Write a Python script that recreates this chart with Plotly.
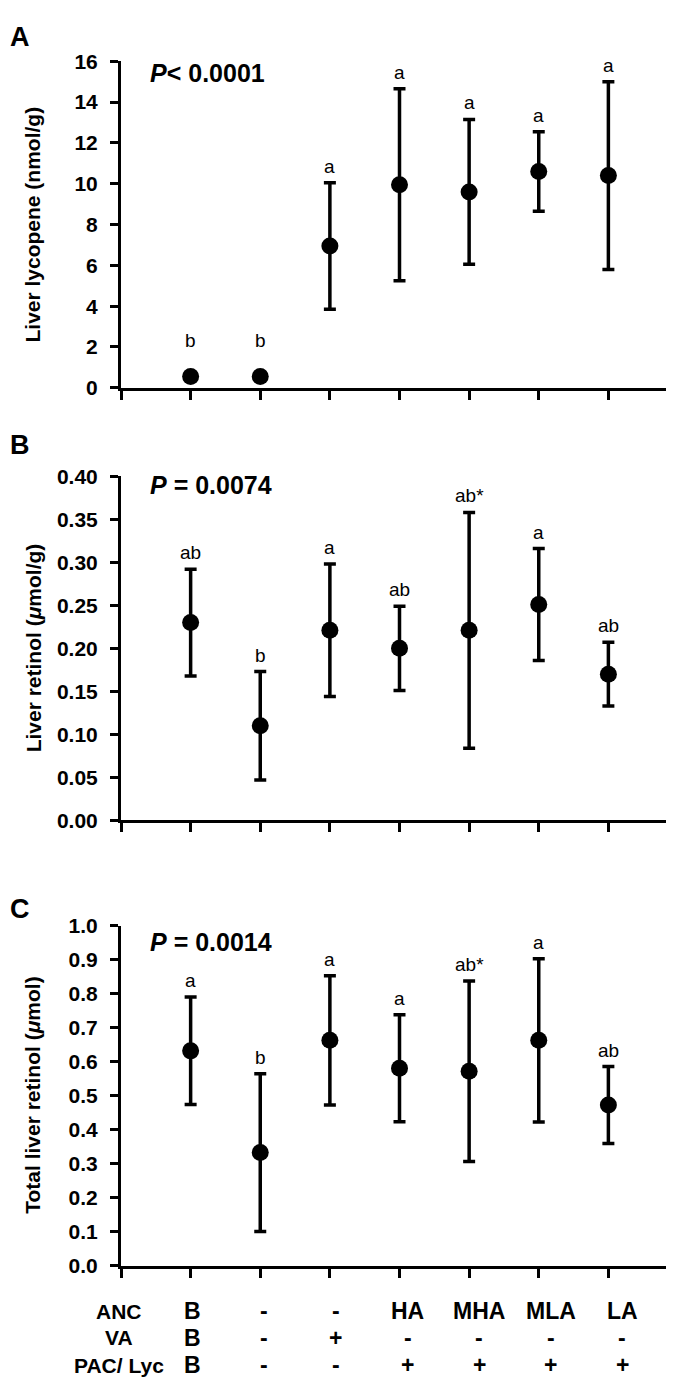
import plotly.graph_objects as go

# ---- data ----
groups = [1, 2, 3, 4, 5, 6, 7]

lyc_mean = [0.55, 0.55, 6.95, 9.95, 9.6, 10.6, 10.4]
lyc_sd = [0.0, 0.0, 3.1, 4.7, 3.55, 1.95, 4.6]
lyc_letters = ["b", "b", "a", "a", "a", "a", "a"]

ret_mean = [0.230, 0.110, 0.221, 0.200, 0.221, 0.251, 0.170]
ret_sd = [0.062, 0.063, 0.077, 0.049, 0.137, 0.065, 0.037]
ret_letters = ["ab", "b", "a", "ab", "ab*", "a", "ab"]

tot_mean = [0.632, 0.333, 0.663, 0.581, 0.572, 0.663, 0.473]
tot_sd = [0.158, 0.232, 0.190, 0.157, 0.265, 0.240, 0.113]
tot_letters = ["a", "b", "a", "a", "ab*", "a", "ab"]

p_texts = ["<i>P</i>&lt; 0.0001", "<i>P</i> = 0.0074", "<i>P</i> = 0.0014"]
panel_letters = ["A", "B", "C"]
y_titles = ["Liver lycopene (nmol/g)", "Liver retinol (<i>μ</i>mol/g)",
            "Total liver retinol (<i>μ</i>mol)"]

row_labels = ["ANC", "VA", "PAC/ Lyc"]
anc_row = ["B", "-", "-", "HA", "MHA", "MLA", "LA"]
va_row = ["B", "-", "+", "-", "-", "-", "-"]
pac_row = ["B", "-", "-", "+", "+", "+", "+"]

# ---- layout geometry (pixels) ----
W, H = 674, 1381
FONT = "Liberation Sans, Arial, sans-serif"


def py(p):
    return 1 - p / H


x_dom = [113 / W, 670 / W]
y_doms = [[py(374), py(42)], [py(814), py(464)], [py(1267), py(921)]]
y_ranges = [[0, 16], [0, 0.4], [0, 1.0]]
y_dticks = [2, 0.05, 0.1]
y_formats = ["d", ".2f", ".1f"]
p_y = [54, 473, 938]
letter_y = [17, 432, 904]

fig = go.Figure()
annotations = []

series = [(lyc_mean, lyc_sd, lyc_letters), (ret_mean, ret_sd, ret_letters),
          (tot_mean, tot_sd, tot_letters)]

for k, (mean, sd, letters) in enumerate(series):
    sx = "" if k == 0 else str(k + 1)
    fig.add_trace(go.Scatter(
        x=groups, y=mean, mode="markers",
        xaxis="x" + sx, yaxis="y" + sx,
        marker=dict(size=17, color="black"),
        error_y=dict(type="data", array=sd, visible=True, color="black",
                     thickness=3.5, width=6),
        showlegend=False, hoverinfo="skip"))
    for g, m, s, t in zip(groups, mean, sd, letters):
        if s > 0:
            yv, shift = m + s, 4
        else:
            yv, shift = m, 24
        annotations.append(dict(
            x=g, y=yv, xref="x" + sx, yref="y" + sx, text=t, showarrow=False,
            yanchor="bottom", yshift=shift,
            font=dict(family=FONT, size=19, color="black")))
    fig.layout["xaxis" + sx] = dict(
        domain=x_dom, anchor="y" + sx, range=[0, 8], tickvals=list(range(9)),
        showticklabels=False, ticks="outside", ticklen=9, tickwidth=3,
        tickcolor="black", showline=True, linewidth=3, linecolor="black",
        showgrid=False, zeroline=False, fixedrange=True)
    fig.layout["yaxis" + sx] = dict(
        domain=y_doms[k], anchor="x" + sx, range=y_ranges[k], dtick=y_dticks[k],
        tick0=0, tickformat=y_formats[k], ticks="outside", ticklen=8, tickwidth=3,
        tickcolor="black", showline=True, linewidth=3, linecolor="black",
        showgrid=False, zeroline=False, ticklabelstandoff=8,
        tickfont=dict(family=FONT, size=21, color="black", weight="bold"))
    # y-axis title
    annotations.append(dict(
        x=25 / W, y=(y_doms[k][0] + y_doms[k][1]) / 2, xref="paper", yref="paper",
        text="<b>" + y_titles[k] + "</b>", textangle=-90, showarrow=False,
        xanchor="center", yanchor="middle",
        font=dict(family=FONT, size=21, color="black")))
    # P value
    annotations.append(dict(
        x=140 / W, y=py(p_y[k]), xref="paper", yref="paper",
        text="<b>" + p_texts[k] + "</b>", showarrow=False,
        xanchor="left", yanchor="middle",
        font=dict(family=FONT, size=25, color="black")))
    # panel letter
    annotations.append(dict(
        x=0, y=py(letter_y[k]), xref="paper", yref="paper",
        text="<b>" + panel_letters[k] + "</b>", showarrow=False,
        xanchor="left", yanchor="middle",
        font=dict(family=FONT, size=27, color="black")))

# treatment table under panel C
row_y = [1313, 1340, 1368]
for r, (lab, vals) in enumerate(zip(row_labels, [anc_row, va_row, pac_row])):
    annotations.append(dict(
        x=111 / W, y=py(row_y[r]), xref="paper", yref="paper",
        text="<b>" + lab + "</b>", showarrow=False, xanchor="center",
        yanchor="middle", font=dict(family=FONT, size=21, color="black")))
    for i, (g, v) in enumerate(zip(groups, vals)):
        annotations.append(dict(
            x=g, y=py(row_y[r]), xref="x3", yref="paper",
            text="<b>" + v + "</b>", showarrow=False, xanchor="center",
            yanchor="middle", xshift=2 + 2 * i,
            font=dict(family=FONT, size=23, color="black")))

fig.update_layout(
    width=W, height=H, margin=dict(l=0, r=0, t=0, b=0),
    paper_bgcolor="white", plot_bgcolor="white",
    annotations=annotations, font=dict(family=FONT, color="black"))

fig.write_html("out.html")
